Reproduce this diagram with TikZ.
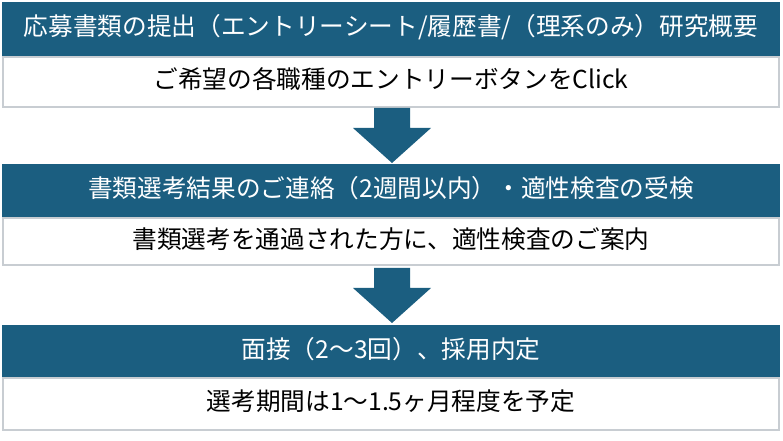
\documentclass[tikz,border=0pt]{standalone}
\usepackage{fontspec}
\setmainfont{Noto Sans CJK JP}
\definecolor{bar}{HTML}{1B5E80}
\definecolor{edge}{HTML}{C8CDD2}
\tikzset{x=0.75pt,y=-0.75pt,
 hdr/.style={text=white,font=\fontsize{18.5}{20}\selectfont,anchor=center},
 sub/.style={font=\fontsize{18.5}{20}\selectfont,anchor=center}}
\begin{document}
\begin{tikzpicture}
\useasboundingbox (0,0) rectangle (783,441);
\foreach \n/\t/\ht/\st/\hd/\sd in {
 1/2/57/107/{応募書類の提出（エントリーシート/履歴書/（理系のみ）研究概要}/{ご希望の各職種のエントリーボタンをClick},
 2/164/218/265/{書類選考結果のご連絡（2週間以内）・適性検査の受検}/{書類選考を通過された方に、適性検査のご案内},
 3/325/378/430/{面接（2～3回）、採用内定}/{選考期間は1～1.5ヶ月程度を予定}}{
 \fill[bar] (2,\t) rectangle (780,\ht);
 \node[hdr] (h\n) at (391,{(\t+\ht)/2+8}) {\hd};
 \draw[edge,line width=1pt,fill=white] (3,\ht) rectangle (779,\st);
 \node[sub] (s\n) at (391,{(\ht+\st)/2+8}) {\sd};
}
\foreach \a in {108,268}{
 \fill[bar] (374,\a) -- (410,\a) -- (410,\a+20) -- (431,\a+20) -- (392,\a+55) -- (353,\a+20) -- (374,\a+20) -- cycle;
}
\end{tikzpicture}
\end{document}
